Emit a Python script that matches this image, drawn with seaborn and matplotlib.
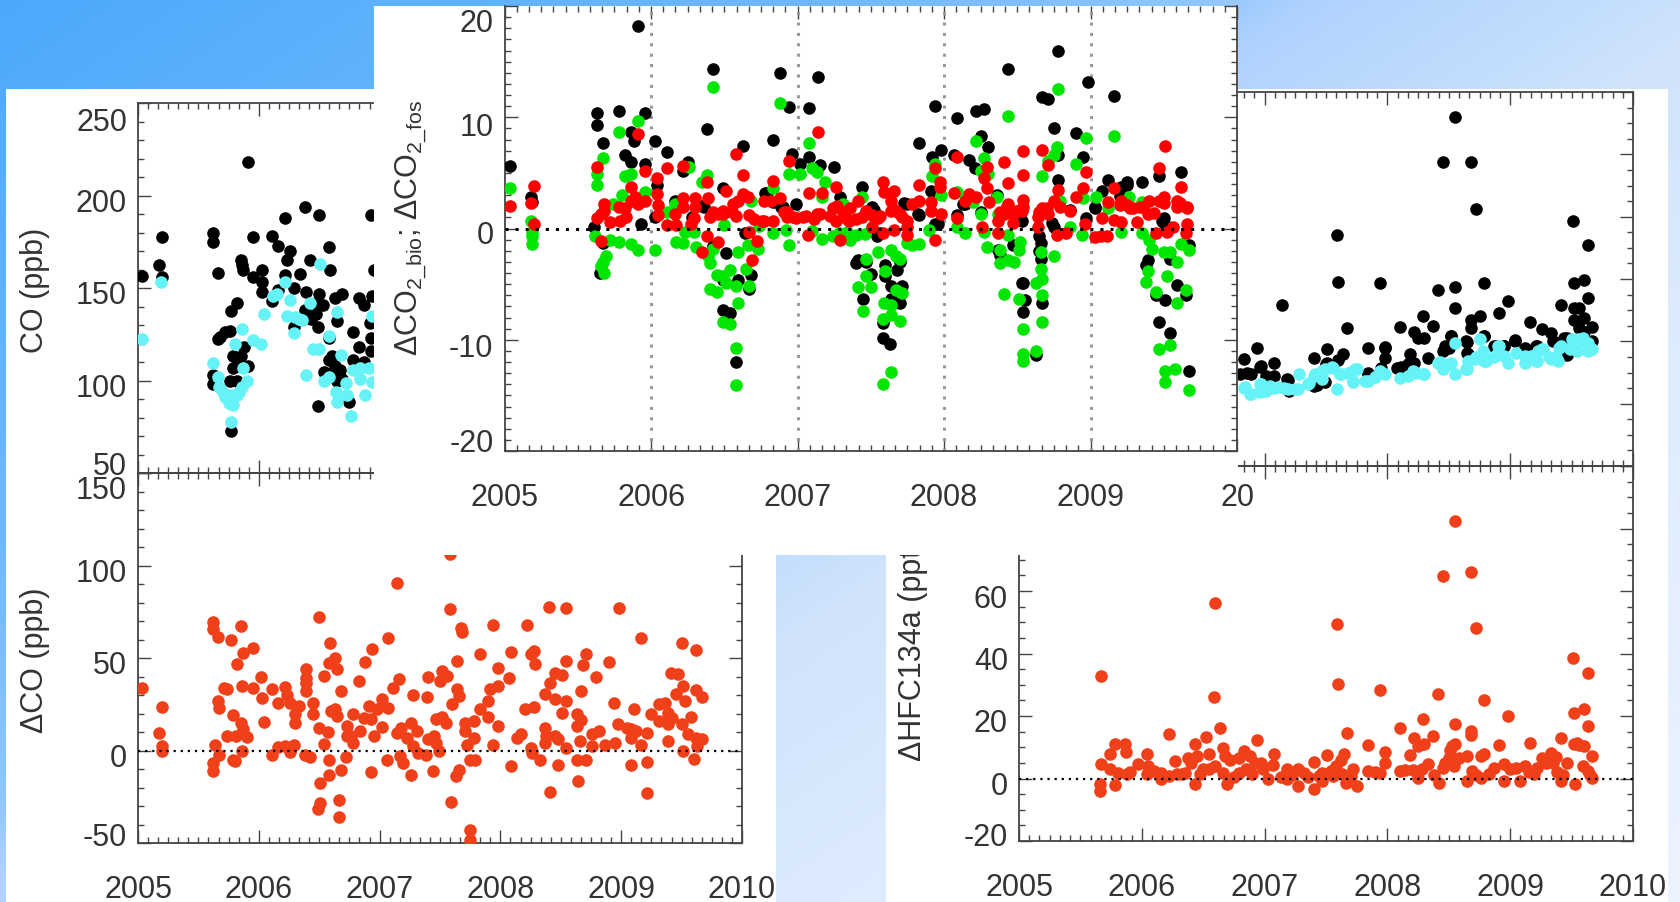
import numpy as np
import matplotlib
matplotlib.use("Agg")
import matplotlib.pyplot as plt
from matplotlib.patches import Rectangle
from matplotlib.ticker import MultipleLocator
from matplotlib.transforms import ScaledTranslation
import seaborn as sns

sns.set_theme(style="ticks")
plt.rcParams['font.family'] = ['Liberation Sans', 'DejaVu Sans']
plt.rcParams['mathtext.fontset'] = 'custom'
plt.rcParams['mathtext.rm'] = 'Liberation Sans'
plt.rcParams['mathtext.default'] = 'regular'

# (decimal year, value)
co_black = [(2005.03,156.7),(2005.17,162.5),(2005.20,177.3),(2005.20,156),(2005.62,179.6),(2005.62,174.7),(2005.66,158),(2005.62,103),(2005.62,98),(2005.66,122.7),(2005.68,123.6),(2005.72,126),(2005.76,127),(2005.77,137.5),(2005.82,142),(2005.79,113),(2005.77,72.7),(2005.79,106.5),(2005.85,165),(2005.86,162.5),(2005.87,160),(2005.91,218),(2005.88,118),(2005.85,113),(2005.91,107.8),(2005.95,177.3),(2005.95,156),(2006.03,160),(2006.03,153),(2006.03,148),(2006.11,178),(2006.16,172.7),(2006.22,188),(2006.26,170),(2006.23,165),(2006.22,157),(2006.34,157.4),(2006.29,150),(2006.16,149),(2006.11,143),(2006.38,194),(2006.50,189.5),(2006.42,165),(2006.58,172),(2006.59,160),(2006.39,148),(2006.50,146.6),(2006.53,141),(2006.63,144.4),(2006.69,146.6),(2006.38,138),(2006.47,136),(2006.49,129),(2006.29,129),(2006.65,132),(2006.58,123),(2006.78,126),(2006.83,144.8),(2006.87,141),(2006.93,189.5),(2006.95,160),(2006.94,145.6),(2006.92,131),(2006.93,123),(2006.83,118),(2006.93,116),(2006.61,113),(2006.58,111),(2006.67,105.6),(2006.54,104.7),(2006.69,101),(2006.78,111),(2006.49,86),(2006.75,88.4),(2006.87,110),(2006.63,108),(2006.60,104),(2006.65,100),(2005.82,108),(2005.82,100),(2005.76,100),(2006.43,133),(2006.47,142)]
co_cyan = [(2005.03,122.4),(2005.19,153),(2005.62,109.6),(2005.66,102),(2005.67,96.6),(2005.72,91),(2005.77,92),(2005.82,92),(2005.79,86.6),(2005.77,77.6),(2005.86,96.6),(2005.90,100),(2005.87,107),(2005.80,119.5),(2005.86,128),(2005.95,122),(2006.02,119.5),(2006.04,136),(2006.12,145.7),(2006.15,146.6),(2006.22,153.4),(2006.26,143.5),(2006.23,135),(2006.29,125.5),(2006.30,134.5),(2006.36,132.7),(2006.39,103),(2006.42,142),(2006.51,163),(2006.45,117),(2006.50,117),(2006.58,124),(2006.65,137),(2006.68,114),(2006.54,100),(2006.58,102),(2006.64,94),(2006.65,88.4),(2006.72,98.4),(2006.73,92),(2006.76,81),(2006.78,105.6),(2006.84,106.5),(2006.91,106.5),(2006.84,101),(2006.88,92),(2006.94,135),(2006.94,99),(2005.70,94),(2005.75,88),(2005.84,94),(2006.33,133.5)]

dco_ppb = [(2005.03,33.6),(2005.17,9.2),(2005.20,23.6),(2005.20,2.3),(2005.20,-.4),(2005.62,69.5),(2005.62,65.5),(2005.66,61.6),(2005.62,-6.7),(2005.62,-11.2),(2005.64,3.2),(2005.67,-2.2),(2005.77,59.6),(2005.82,46.9),(2005.87,52.9),(2005.95,55.2),(2005.85,67.3),(2005.71,33.9),(2005.74,33),(2005.66,26.7),(2005.67,23.1),(2005.79,19),(2005.85,15),(2005.87,11.4),(2005.74,7.8),(2005.81,7.8),(2005.90,7.4),(2005.86,-.4),(2005.79,-4.9),(2005.80,-5.8),(2005.86,34.8),(2005.95,33.9),
 (2006.02,39.9),(2006.03,28.2),(2006.04,15.5),(2006.11,33),(2006.16,25.8),(2006.22,34.5),(2006.23,29.8),(2006.26,25.8),(2006.30,19.5),(2006.30,14.6),(2006.33,24),(2006.45,25.5),(2006.39,44.2),(2006.39,39.4),(2006.39,36.3),(2006.39,32.1),(2006.45,19.5),(2006.50,12.3),(2006.54,40.3),(2006.54,3.6),(2006.57,10.1),(2006.11,-2.7),(2006.16,1.8),(2006.22,2.3),(2006.29,2.9),(2006.26,-.9),(2006.38,-2.2),(2006.42,-3.4),(2006.50,72.4),(2006.59,57.9),(2006.58,47.5),(2006.63,50.2),(2006.65,43.9),(2006.68,32.1),(2006.60,21.3),(2006.63,22.2),(2006.65,18.6),(2006.58,-5.2),(2006.58,-13.5),(2006.51,-17.5),(2006.51,-28.3),(2006.49,-31.6),(2006.66,-26.9),(2006.66,-35.9),(2006.68,-10.3),(2006.72,-3.6),(2006.73,13.2),(2006.73,8.1),(2006.76,7.8),(2006.78,20),(2006.78,4.2),(2006.83,37.5),(2006.84,10.5),(2006.87,17.7),(2006.88,47.8),(2006.91,24),(2006.94,55.1),(2006.93,16.8),(2006.93,-11.6),(2006.95,8.1),(2006.98,22.2),
 (2007.02,28),(2007.02,12.8),(2007.07,60.6),(2007.07,23.1),(2007.11,33.6),(2007.16,38.8),(2007.14,90.4),(2007.14,9.6),(2007.18,12.3),(2007.06,-4.9),(2007.17,-3.1),(2007.19,-7),(2007.26,15),(2007.26,-13),(2007.28,29.8),(2007.23,6.9),(2007.31,10.5),(2007.28,2.3),(2007.32,-1.3),(2007.38,-2.2),(2007.39,29.1),(2007.40,39.9),(2007.40,6),(2007.45,7.8),(2007.44,-11.2),(2007.47,4.2),(2007.49,-.4),(2007.50,37.5),(2007.52,43),(2007.47,16.8),(2007.52,18.2),(2007.55,15),(2007.56,40.3),(2007.58,76.4),(2007.58,106),(2007.59,-28),(2007.60,24.9),(2007.64,48.4),(2007.64,33),(2007.66,29.4),(2007.67,66.4),(2007.68,64.1),(2007.63,-13.9),(2007.66,-10.3),(2007.71,15),(2007.71,10.5),(2007.72,3.2),(2007.75,-4.9),(2007.79,-5.4),(2007.78,15.9),(2007.78,6.9),(2007.83,52.3),(2007.83,22.2),(2007.75,-43.1),(2007.75,-48.2),(2007.90,26.7),(2007.90,18.2),(2007.91,33.4),(2007.94,68),(2007.94,3.2),(2007.98,34.8),(2007.98,44.8),(2007.98,13.2),
 (2008.07,39.4),(2008.09,53.2),(2008.09,-8.5),(2008.14,6.9),(2008.17,9),(2008.20,22.6),(2008.22,67.7),(2008.25,1.4),(2008.26,-1.3),(2008.25,52),(2008.28,53.8),(2008.28,23.6),(2008.29,46.9),(2008.33,-4.9),(2008.37,30.3),(2008.37,12.3),(2008.37,4.2),(2008.38,7.8),(2008.41,36.3),(2008.41,-22.4),(2008.40,77.3),(2008.45,42.1),(2008.45,28),(2008.45,7.8),(2008.48,6),(2008.48,-7.6),(2008.51,40.6),(2008.51,20.4),(2008.54,76.9),(2008.54,48.4),(2008.54,26.7),(2008.54,1.4),(2008.63,19.9),(2008.63,13.2),(2008.63,-5.4),(2008.64,-16.6),(2008.67,32.1),(2008.67,16.4),(2008.68,46.2),(2008.66,5.1),(2008.71,52.3),(2008.71,-4.9),(2008.76,8.7),(2008.76,2.3),(2008.79,39.7),(2008.82,10.5),(2008.87,3.2),(2008.90,48),(2008.94,25.8),(2008.95,4.2),(2008.97,14.1),(2008.98,76.9),
 (2009.05,12.3),(2009.08,11.4),(2009.08,6.9),(2009.08,-7.6),(2009.11,22.2),(2009.12,10.5),(2009.16,61),(2009.16,3.2),(2009.21,9.2),(2009.21,-6.1),(2009.21,-22.9),(2009.25,19.5),(2009.31,24.9),(2009.31,15.9),(2009.36,25.8),(2009.39,20.4),(2009.39,5.1),(2009.39,14.1),(2009.41,42.1),(2009.42,17.7),(2009.45,30.3),(2009.47,41.2),(2009.50,58.3),(2009.50,14.4),(2009.51,34.8),(2009.51,-.4),(2009.53,26.7),(2009.55,8.7),(2009.58,18.1),(2009.60,-4.5),(2009.62,54.2),(2009.62,32.7),(2009.62,6.9),(2009.67,29.1),(2009.67,6.3),(2009.63,2.3)]

dco2_black = [(2005.04,5.6),(2005.18,2.8),(2005.19,2.4),(2005.63,10.4),(2005.63,9.3),(2005.78,10.6),(2005.86,8.7),(2005.88,7.9),(2005.96,10.4),(2005.67,7.7),(2005.82,6.6),(2005.86,6.0),(2005.96,5.8),(2005.91,18.2),(2006.03,7.9),(2006.11,6.9),(2006.04,3.9),(2006.03,1.0),(2005.65,-4.0),(2005.67,-1.3),(2006.25,6.0),(2006.22,5.2),(2006.16,2.5),(2006.38,8.9),(2006.42,14.3),(2006.63,7.4),(2006.49,3.6),(2006.51,-2.2),(2006.42,-1.6),(2006.49,-7.3),(2006.54,-7.6),(2006.58,-12.0),(2006.49,-4.6),(2006.59,-4.6),(2006.68,-4.2),(2006.67,-5.4),(2006.64,-0.4),(2006.28,1.0),(2006.36,1.9),(2005.93,0.4),(2005.61,0.1),(2006.78,3.2),(2006.83,8.0),(2006.88,14.0),(2006.94,10.9),(2007.08,10.8),(2007.14,13.6),(2006.96,6.7),(2007.02,5.8),(2007.08,6.4),(2007.15,5.7),(2007.25,5.5),(2006.89,1.9),(2006.99,2.2),
 (2007.44,3.7),(2007.51,1.9),(2007.29,2.8),(2007.41,-2.8),(2007.47,-3.0),(2007.50,-4.1),(2007.45,-6.3),(2007.60,-3.3),(2007.60,-4.3),(2007.64,-5.2),(2007.71,-5.2),(2007.68,-3.7),(2007.70,-3.0),(2007.70,-6.7),(2007.64,-6.3),(2007.58,-8.5),(2007.58,-9.8),(2007.63,-10.4),(2007.75,2.2),(2007.83,1.2),(2007.83,7.7),(2007.92,6.4),(2007.94,11.0),(2007.98,7.1),(2007.91,3.4),(2007.94,0.4),(2008.07,6.6),(2008.09,9.9),(2008.17,6.2),(2008.21,5.4),(2008.22,10.6),(2008.27,10.7),(2008.25,8.3),(2008.30,7.3),(2008.14,2.2),(2008.44,14.3),(2008.37,-1.9),(2008.38,-2.4),(2008.47,-1.5),(2008.53,-4.9),(2008.54,-4.9),(2008.55,-6.4),(2008.54,-7.5),(2008.63,-11.4),(2008.66,-1.3),(2008.66,-2.7),(2008.67,-6.7),(2008.67,11.8),(2008.71,11.6),(2008.78,16.0),(2008.75,9.0),(2008.78,6.6),(2008.78,4.4),(2008.90,8.6),(2008.95,6.4),(2008.98,13.2),(2009.16,11.9),(2009.03,1.9),(2009.08,3.4),(2009.12,4.4),(2009.21,3.7),(2009.25,4.2),(2009.35,4.2),(2009.47,4.7),(2009.62,5.1),(2009.39,-2.8),(2009.38,-3.3),(2009.45,-6.0),(2009.47,-8.4),(2009.51,-6.4),(2009.54,-9.4),(2009.49,0.7),(2009.54,-2.7),(2009.59,-5.1),(2009.65,-6.0),(2009.67,-12.8),(2009.67,-1.5),(2008.97,0.9),(2008.75,0.1),(2008.53,0.7),
 (2007.52,1.7),(2007.56,-.4),(2007.54,-.7),(2006.35,2),(2006.79,3.2),(2006.83,2.4),(2006.90,1.9),(2007.40,-3.1),(2007.73,2.3),(2007.82,1.3),(2007.96,.4),(2008.09,1.2),(2008.13,2.2),(2008.25,1.5),(2008.36,3),(2008.52,.9),(2008.65,-.7),(2008.65,-2),(2008.74,.5),(2008.86,1.7),(2009.03,1.8),(2009.20,2.9),(2009.25,3.9),(2009.50,.9),(2009.50,.5)]
dco2_green = [(2005.04,3.6),(2005.18,0.7),(2005.19,-0.3),(2005.19,-0.7),(2005.19,-1.4),(2005.63,4.9),(2005.63,3.9),(2005.67,6.3),(2005.78,8.7),(2005.91,9.7),(2005.82,4.7),(2005.86,4.9),(2005.96,3.3),(2005.80,3.0),(2005.74,2.2),(2005.62,-0.7),(2005.72,-1.0),(2005.78,-1.2),(2005.86,-1.4),(2005.91,-1.9),(2006.03,-1.9),(2005.69,-2.5),(2005.67,-3.0),(2005.66,-3.4),(2005.68,-4.0),(2006.11,1.5),(2006.16,2.2),(2006.17,-1.2),(2006.22,-1.3),(2006.23,-0.3),(2006.29,-0.3),(2006.26,5.5),(2006.31,-1.7),(2006.35,4.2),(2006.38,4.8),(2006.42,12.7),(2006.39,-2.5),(2006.40,-3.1),(2006.42,-1.8),(2006.40,-5.4),(2006.45,-4.2),(2006.49,-4.3),(2006.45,-5.7),(2006.54,-3.7),(2006.51,-4.9),(2006.49,-8.4),(2006.54,-8.6),(2006.58,-10.7),(2006.58,-14.1),(2006.59,-6.7),(2006.58,-5.2),(2006.65,-3.6),(2006.67,-5.2),(2006.59,-2.1),(2006.66,-1.5),(2006.73,-1.8),(2006.68,2.5),(2006.83,-0.4),(2006.83,3.6),(2006.94,-1.5),(2006.88,11.3),(2007.08,7.7),(2006.94,4.9),(2007.02,4.9),(2007.10,5.4),(2007.13,5.1),(2007.19,4.2),(2007.17,2.8),(2006.92,-0.1),(2007.17,-0.9),(2007.24,-0.7),
 (2007.44,2.8),(2007.36,-1.0),(2007.31,2.2),(2007.47,-2.7),(2007.47,-4.3),(2007.41,-5.3),(2007.50,-5.3),(2007.45,-7.4),(2007.55,-2.1),(2007.60,-3.8),(2007.64,-1.9),(2007.67,-2.5),(2007.70,-2.7),(2007.67,-5.5),(2007.71,-5.8),(2007.59,-6.7),(2007.64,-6.9),(2007.58,-8.1),(2007.64,-7.8),(2007.70,-8.3),(2007.64,-12.9),(2007.58,-14.0),(2007.75,-1.3),(2007.78,-1.5),(2007.83,-1.4),(2007.90,-0.1),(2007.92,4.7),(2007.94,5.8),(2007.98,3.0),(2008.09,3.3),(2008.09,0.1),(2008.14,-0.4),(2008.22,7.9),(2008.27,6.3),(2008.30,4.9),(2008.25,5.2),(2008.20,2.4),(2008.25,1.3),(2008.27,-0.3),(2008.29,-1.7),(2008.36,2.8),(2008.37,1.3),(2008.38,-1.9),(2008.38,-3.1),(2008.41,-5.9),(2008.44,10.1),(2008.44,-0.6),(2008.44,-2.8),(2008.48,-3.0),(2008.52,-1.2),(2008.51,-1.9),(2008.51,-6.3),(2008.54,-9.0),(2008.54,-11.3),(2008.54,-11.9),(2008.63,-11.0),(2008.63,-4.9),(2008.66,-3.6),(2008.67,-4.5),(2008.67,-6.0),(2008.67,-8.4),(2008.66,-2.1),(2008.75,-2.5),(2008.67,4.7),(2008.71,6.1),(2008.75,6.6),(2008.77,7.3),(2008.78,12.5),(2008.79,2.5),(2008.86,0.1),(2008.90,5.8),(2008.95,2.7),(2008.97,8.1),(2008.94,-0.6),(2009.16,8.3),(2009.04,2.8),(2009.12,1.8),(2009.21,-0.3),(2009.26,2.8),(2009.35,-0.4),(2009.35,2.4),(2009.40,-1.0),(2009.42,-1.8),(2009.39,-3.8),(2009.38,-4.8),(2009.45,-5.7),(2009.47,-10.8),(2009.54,-10.5),(2009.51,-12.8),(2009.58,-12.6),(2009.51,-13.8),(2009.67,-14.5),(2009.50,-2.1),(2009.54,-2.1),(2009.52,-4.3),(2009.59,-3.0),(2009.59,-6.7),(2009.65,-5.5),(2009.62,-1.4),(2009.67,-1.9),
 (2007.34,-.35),(2007.40,-.6),(2007.10,-.2),(2007.28,-.4),(2007.46,-.5),(2006.74,.2),(2006.50,.3)]
dco2_red = [(2005.04,2.0),(2005.18,2.3),(2005.20,3.8),(2005.20,0.4),(2005.63,5.5),(2005.63,0.9),(2005.66,-1.1),(2005.66,1.3),(2005.68,2.2),(2005.68,1.6),(2005.72,.6),(2005.78,1.9),(2005.79,.7),(2005.82,1.8),(2005.83,1.0),(2005.86,2.5),(2005.86,3.7),(2005.89,2.8),(2005.91,8.5),(2005.91,2.2),(2005.96,5.2),(2005.96,2.5),(2006.04,4.5),(2006.04,3.1),(2006.05,2.1),(2006.05,1.2),(2006.11,5.4),(2006.11,.3),(2006.16,1.3),(2006.17,.3),(2006.22,5.6),(2006.22,2.7),(2006.22,1.9),(2006.27,.4),(2006.30,2.7),(2006.30,1.9),(2006.29,.9),(2006.35,-2.1),(2006.38,4.2),(2006.39,2.7),(2006.38,-.7),(2006.40,1.0),(2006.46,-1.2),(2006.46,1.3),(2006.51,3.4),(2006.49,1.3),(2006.55,1.5),(2006.59,2.5),(2006.58,6.7),(2006.63,4.8),(2006.63,3.1),(2006.66,2.8),(2006.67,1.2),(2006.67,-.3),(2006.72,-1.1),(2006.69,-2.8),(2006.77,2.5),(2006.77,.7),(2006.82,2.5),(2006.83,4.3),(2006.88,2.7),(2006.91,1.5),(2006.94,6.1),(2006.93,1.0),(2006.99,.9),(2007.04,1.0),(2007.07,-.6),(2007.08,3.2),(2007.14,8.7),(2007.17,3.2),(2007.13,1.3),(2007.24,1.8),(2007.26,3.7),(2007.26,.7),
 (2007.29,-1.0),(2007.36,1.8),(2007.41,2.5),(2007.35,.7),(2007.44,1.0),(2007.47,1.6),(2007.51,1.2),(2007.55,.9),(2007.51,.1),(2007.58,4.2),(2007.59,3.3),(2007.64,2.5),(2007.66,3.4),(2007.64,1.6),(2007.67,1.6),(2007.58,-.4),(2007.66,-.1),(2007.71,1.0),(2007.75,.1),(2007.75,-.6),(2007.78,2.2),(2007.83,3.9),(2007.83,2.5),(2007.91,2.4),(2007.91,1.6),(2007.98,1.3),(2007.94,5.4),(2007.97,4.2),(2007.97,3.7),(2007.94,-1.0),(2008.07,3.2),(2008.09,6.4),(2008.09,.9),(2008.14,2.5),(2008.17,3.1),(2008.22,2.8),(2008.27,4.5),(2008.29,5.5),(2008.29,3.6),(2008.31,2.4),(2008.26,.1),(2008.41,6.0),(2008.37,.7),(2008.37,-.4),(2008.41,1.3),(2008.44,4.1),(2008.44,2.2),(2008.47,1.3),(2008.50,1.6),(2008.54,7.0),(2008.54,4.8),(2008.54,2.6),(2008.53,1.6),(2008.64,1.0),(2008.64,.1),(2008.67,7.1),(2008.67,1.8),(2008.71,5.7),(2008.71,1.3),(2008.75,2.5),(2008.78,3.5),(2008.79,1.9),(2008.77,-.6),(2008.83,-.4),(2008.86,1.6),(2008.90,2.8),(2008.95,3.6),(2008.97,5.1),(2008.96,.4),(2009.03,-.8),(2009.11,-.7),(2009.08,.9),(2009.12,2.4),(2009.16,3.6),(2009.16,.8),(2009.21,2.5),(2009.21,.6),(2009.25,2.1),(2009.29,1.8),(2009.32,.6),(2009.36,1.9),(2009.39,1.3),(2009.40,2.5),(2009.45,-.4),(2009.47,5.4),(2009.47,2.5),(2009.50,2.8),(2009.51,7.4),(2009.52,-.3),(2009.56,.1),(2009.59,2.5),(2009.62,3.7),(2009.62,2.1),(2009.66,1.8),(2009.66,.4),(2009.65,-.4),
 (2006.42,1.46),(2006.49,1.6),(2006.56,2.2),(2006.58,1.15),(2006.70,.85),(2006.76,.7),(2006.83,.7),(2006.93,1.46),(2006.97,1.0),(2007.06,1.15),(2007.15,1.3),(2007.22,1.15),(2007.31,1.46),(2007.34,.85),(2007.47,1.46),(2007.52,1.0),(2007.56,1.15),(2007.65,1.75),(2007.70,1.3),(2007.75,.7),(2007.40,.85),(2007.11,.85),(2007.27,2.0),(2008.38,1.46),(2008.43,2.0),(2008.50,1.6),(2008.54,1.9),(2008.47,.45),(2008.65,1.46),(2008.70,1.8),(2009.20,2.1),(2009.27,1.8),(2009.34,1.9),(2009.43,1.4),(2009.50,2.3),(2009.59,1.9),(2009.66,1.9),(2009.61,2.3),(2009.07,-.65)]

hfc_black = [(2006.83,34.2),(2006.94,38),(2006.97,32),(2006.86,30),(2007.08,33),(2007.08,29),(2007.14,51.7),(2007.18,27.8),(2007.20,24),(2007.40,34.5),(2007.51,37.6),(2007.59,74),(2007.60,59),(2007.67,44.4),(2007.64,36),(2007.60,34),(2007.51,33),(2007.40,25.7),(2007.84,37.8),(2007.84,29.4),(2007.94,58.7),(2007.98,38.3),(2007.98,34.8),(2007.95,31.6),(2008.10,44.5),(2008.18,36),(2008.08,31.6),(2008.17,32.6),(2008.22,43),(2008.25,41.2),(2008.30,41),(2008.29,48),(2008.37,45),(2008.33,34.8),(2008.41,56.4),(2008.45,97.5),(2008.55,111.9),(2008.55,57.5),(2008.55,50.6),(2008.52,41.7),(2008.47,38.5),(2008.68,97.4),(2008.72,82.6),(2008.79,58.8),(2008.68,47),(2008.75,48),(2008.68,44.4),(2008.65,39.9),(2008.79,41.7),(2008.65,36.4),(2008.91,49.2),(2008.98,52.8),(2008.89,38.5),(2009.04,40.3),(2008.95,38.5),(2009.16,46.2),(2009.26,43.9),(2009.33,42.8),(2009.22,38.5),(2009.41,51.7),(2009.51,78.7),(2009.63,70.8),(2009.52,58.7),(2009.60,59.7),(2009.63,54),(2009.52,50.8),(2009.56,50.8),(2009.52,47),(2009.60,47.6),(2009.56,44.4),(2009.67,44.6),(2009.44,41.2),(2009.65,39.6),
 (2006.96,31.7),(2006.89,29.5),(2006.80,29.5),(2007.01,29),(2007.19,27.5),(2007.50,32.7),(2007.43,26),(2007.49,26.8),(2007.84,30),(2007.98,38),(2008.11,31.7),(2008.22,33),(2008.45,37),(2008.50,38),(2008.52,41.8),(2008.64,40),(2008.66,36),(2008.79,41.7),(2008.87,38.5),(2008.95,38.5),(2009.04,40),(2009.12,38),(2009.21,38.5),(2009.35,40),(2009.46,41.2),(2009.46,35.5),(2009.67,40),(2009.60,42.9)]
hfc_cyan = [(2006.83,25.1),(2006.88,23),(2006.97,26.2),(2007.01,24),(2007.08,25.1),(2007.16,25.1),(2007.25,24.8),(2007.28,29.4),(2007.36,26.7),(2007.40,28.9),(2007.47,30.5),(2007.56,31.6),(2007.59,24.8),(2007.62,29.4),(2007.69,30),(2007.75,31),(2007.72,27),(2007.84,27.3),(2007.93,30),(2007.98,29.4),(2008.10,28.3),(2008.17,28.9),(2008.23,30),(2008.30,29.4),(2008.41,33.2),(2008.45,31),(2008.52,33.2),(2008.55,39.6),(2008.55,29.4),(2008.65,31),(2008.71,34.2),(2008.75,40.9),(2008.78,36.4),(2008.80,33.7),(2008.91,38.5),(2008.89,35.8),(2008.98,33.2),(2009.05,36.4),(2009.12,33.2),(2009.17,35.3),(2009.22,33.7),(2009.26,37.4),(2009.33,34.2),(2009.39,33.7),(2009.41,38.5),(2009.50,40.6),(2009.59,41.2),(2009.54,36.9),(2009.67,37.4),(2009.63,39.6),
 (2006.84,25.2),(2006.89,23.1),(2006.96,26.3),(2006.96,23.6),(2007.04,25.8),(2007.11,25.2),(2007.19,24.7),(2007.27,24.7),(2007.35,26.3),(2007.41,29.5),(2007.47,27.9),(2007.49,31.1),(2007.55,31.7),(2007.61,29.5),(2007.68,30),(2007.72,27.4),(2007.74,31.1),(2007.82,27.4),(2007.90,28.5),(2007.94,30.6),(2008.21,30.6),(2008.29,29.5),(2008.43,33.3),(2008.49,32.7),(2008.64,31.1),(2008.66,33.8),(2008.72,34.9),(2008.78,37),(2008.79,33.8),(2008.87,34.9),(2008.90,38.6),(2008.95,35.4),(2009.12,35.4),(2009.21,33.8),(2009.23,37),(2009.27,37.6),(2009.32,34.9),(2009.40,38),(2009.37,35),(2009.51,39.7),(2009.55,40.7),(2009.60,40.1),(2009.63,37),(2009.49,37.6)]
dhfc_ppt = [(2005.67,32.8),(2005.67,4.5),(2005.66,-1.9),(2005.66,-4),(2005.74,8),(2005.78,10.9),(2005.74,2.9),(2005.81,1.8),(2005.78,-2.1),(2005.86,10.9),(2005.87,8.4),(2005.88,1.3),(2005.97,4.7),(2006.04,8),(2006.05,4),(2006.04,1.3),(2006.16,1.8),(2006.16,-.3),(2006.22,14.1),(2006.27,5.5),(2006.29,1.3),(2006.35,1.8),(2006.40,5),(2006.43,11.2),(2006.45,7.2),(2006.43,-1.6),(2006.47,1.3),(2006.52,13.3),(2006.55,2.9),(2006.55,8),(2006.59,26.1),(2006.60,56.1),(2006.64,16.3),(2006.66,9.8),(2006.68,7.2),(2006.69,-1.6),(2006.66,1.8),(2006.79,6.6),(2006.79,1.8),(2006.83,8.8),(2006.88,7.2),(2006.85,2.9),(2006.90,1.3),(2006.94,12.2),(2006.97,5),(2006.99,2.9),(2007.03,-.3),(2007.08,8),(2007.07,4.3),(2007.18,2.9),(2007.18,-.3),(2007.27,2.9),(2007.27,-2.5),(2007.32,1.8),(2007.40,5.3),(2007.40,-3.2),(2007.47,1.8),(2007.47,-.9),(2007.51,7.5),(2007.56,.7),(2007.59,49.4),(2007.60,30.4),(2007.58,4),(2007.65,7.7),(2007.67,14.5),(2007.66,-1.4),(2007.72,2.9),(2007.75,-2.5),(2007.84,10.6),(2007.84,2.4),(2007.94,28.4),(2007.94,1.8),(2007.98,8.6),(2007.98,5),(2008.10,16.3),(2008.10,2.4),(2008.18,7.5),(2008.21,2.6),(2008.22,13),(2008.25,10.4),(2008.30,10.9),(2008.25,.2),(2008.29,18.9),(2008.33,4.7),(2008.37,13.6),(2008.41,27.1),(2008.42,-1.4),(2008.45,64.7),(2008.45,3.4),(2008.55,82.5),(2008.50,6.6),(2008.55,17.6),(2008.53,10.4),(2008.55,10.9),(2008.54,4),(2008.68,66.2),(2008.72,48.3),(2008.68,15.2),(2008.68,13.8),(2008.65,7.2),(2008.65,-.9),(2008.69,2.4),(2008.79,25.2),(2008.76,7.2),(2008.79,8),(2008.76,.2),(2008.87,3.4),(2008.91,10.6),(2008.95,4.5),(2008.95,-.9),(2008.98,19.9),(2009.05,3.4),(2009.08,-.9),(2009.12,4),(2009.16,11.4),(2009.22,3.4),(2009.26,6.6),(2009.33,8.2),(2009.35,5),(2009.41,13),(2009.41,-.9),(2009.46,5),(2009.51,38.6),(2009.52,21),(2009.52,10.9),(2009.53,-1.6),(2009.54,11.4),(2009.59,4),(2009.60,22.2),(2009.60,10.4),(2009.63,33.8),(2009.63,16.8),(2009.63,2.4),(2009.67,7.2),(2009.67,.2),
 (2005.90,2),(2006.10,2.5),(2006.22,.8),(2006.33,1.5),(2006.38,6.5),(2006.50,3),(2006.60,4),(2006.72,6),(2006.75,.5),(2006.92,5),(2007.13,.6),(2007.22,1),(2007.35,.5),(2007.44,.8),(2007.54,2.5),(2007.62,6),(2007.63,1.5),(2007.70,.8),(2007.90,2.2),(2008.14,2.6),(2008.28,3),(2008.38,1),(2008.47,5),(2008.51,9),(2008.58,6.5),(2008.72,1.2),(2008.83,1.5),(2009.00,3),(2009.15,2),(2009.19,1.5),(2009.29,5),(2009.37,7),(2009.38,2),(2009.43,1.2),(2009.56,10.6),(2009.65,1)]

years = [2005, 2006, 2007, 2008, 2009, 2010]

W, H = 1680, 903
DOT = 82
TXT = '#333333'
CYAN = '#66f3f8'
GREEN = '#00e600'
RED = '#ff0000'
ORANGE = '#f0401a'
FS = 22


def gradient(x0, x1, y0, y1):
    xx, yy = np.meshgrid(np.arange(x0, x1, 2), np.arange(y0, y1, 2))
    t = xx + 1.5 * yy
    stops = [0, 820, 1200, 1315, 1610, 1743, 2240, 3024]
    rgb = [(75, 169, 252), (112, 184, 253), (143, 198, 254), (175, 210, 253),
           (195, 222, 254), (208, 227, 251), (222, 236, 254), (235, 243, 254)]
    rgb = np.array(rgb) / 255
    return np.dstack([np.interp(t, stops, rgb[:, i]) for i in range(3)])


def panel(left, right, top, bottom, ylim, major, minor, z=1):
    ax = fig.add_axes([left / W, 1 - bottom / H, (right - left) / W, (bottom - top) / H], zorder=z)
    ax.patch.set_alpha(0)
    ax.set_xlim(2005, 2010)
    ax.set_ylim(*ylim)
    ax.xaxis.set_major_locator(MultipleLocator(1))
    ax.xaxis.set_minor_locator(MultipleLocator(1 / 12))
    ax.yaxis.set_major_locator(MultipleLocator(major))
    ax.yaxis.set_minor_locator(MultipleLocator(minor))
    ax.tick_params(which='major', direction='in', length=9.5, width=1, color='#444444',
                   top=True, right=True, labelcolor=TXT, labelsize=FS, pad=8)
    ax.tick_params(which='minor', direction='in', length=4, width=1, color='#444444',
                   top=True, right=True)
    ax.tick_params(axis='x', which='major', pad=22)
    for s in ax.spines.values():
        s.set_color('#444444')
        s.set_linewidth(1.3)
    ax.set_xticks(years)
    ax.set_xticklabels([str(y) for y in years])
    return ax


def shift_labels(ax, offsets):
    # the tick labels sit a little below their ticks, first and last ones pulled inside
    fig.canvas.draw()
    for lab in ax.get_yticklabels():
        dy = offsets.get(lab.get_text().replace('\u2212', '-'), 4)
        lab.set_transform(lab.get_transform() + ScaledTranslation(0, -dy / 100, fig.dpi_scale_trans))


def dots(ax, series, color, z=3):
    a = np.array(series)
    sns.scatterplot(x=a[:, 0], y=a[:, 1], color=color, s=DOT, linewidth=0, ax=ax, legend=False, zorder=z)


def zero_line(ax, z, lw=1.6, gap=2.2):
    ax.axhline(0, color='black', lw=lw, ls=(0, (1, gap)), zorder=z)


fig = plt.figure(figsize=(W / 100, H / 100), dpi=100)

back = fig.add_axes([0, 0, 1, 1], zorder=0)
back.axis('off')
back.imshow(gradient(0, W + 2, 0, H + 2), extent=(0, W, H, 0), aspect='auto', interpolation='bilinear')
back.add_patch(Rectangle((6, 90), 1662, 813, color='white', lw=0, zorder=2))
back.set_xlim(0, W)
back.set_ylim(H, 0)

# left column
co = panel(138, 742, 104, 474, (50, 250), 50, 10)
dots(co, co_black, 'black')
dots(co, co_cyan, CYAN, 4)
co.set_xticklabels([])
co.set_yticks([50, 100, 150, 200, 250])
co.set_yticklabels(['50', '100', '150', '200', '250'])
shift_labels(co, {'250': 15, '50': -10})
co.set_ylabel('CO (ppb)', fontsize=FS, color=TXT)
co.yaxis.set_label_coords((50 - 138) / 604, (474 - 290) / 370)

dco = panel(138, 742, 474, 844, (-50, 150), 50, 10)
dots(dco, dco_ppb, ORANGE)
zero_line(dco, 5)
dco.set_yticks([-50, 0, 50, 100, 150])
dco.set_yticklabels(['-50', '0', '50', '100', '150'])
shift_labels(dco, {'150': 14, '-50': -9})
dco.set_ylabel('\u0394CO (ppb)', fontsize=FS, color=TXT)
dco.yaxis.set_label_coords((50 - 138) / 604, (844 - 660) / 370)

# right column, its left part is behind the middle panel
hfc = panel(1019, 1633, 93, 467, (0, 120), 20, 5)
dots(hfc, hfc_black, 'black')
dots(hfc, hfc_cyan, CYAN, 4)
hfc.set_xticklabels([])
hfc.set_yticklabels([])

dhfc = panel(1019, 1633, 467, 842, (-20, 100), 20, 5)
dots(dhfc, dhfc_ppt, ORANGE)
zero_line(dhfc, 5)
dhfc.set_yticks([-20, 0, 20, 40, 60, 80, 100])
dhfc.set_yticklabels(['-20', '0', '20', '40', '60', '', ''])
shift_labels(dhfc, {'-20': -8})
dhfc.set_ylabel('\u0394HFC134a (ppt)', fontsize=FS, color=TXT)
dhfc.yaxis.set_label_coords((928 - 1019) / 614, (842 - 650) / 375)

# pasted pieces on top: gradient gap and the white middle panel
cover = fig.add_axes([0, 0, 1, 1], zorder=2)
cover.axis('off')
cover.imshow(gradient(776, 888, 556, 905), extent=(776, 886, 903, 556), aspect='auto', interpolation='bilinear')
cover.add_patch(Rectangle((374, 7), 864, 549, color='white', lw=0, zorder=2))
cover.set_xlim(0, W)
cover.set_ylim(H, 0)

mid = panel(504.6, 1237, 7, 452, (-20, 20), 10, 1, z=3)
mid.spines['top'].set_visible(False)
for y in years[1:-1]:
    mid.axvline(y, color='#999999', lw=2.2, ls=(0, (1, 2.4)), zorder=1)
dots(mid, dco2_black, 'black', 3)
dots(mid, dco2_green, GREEN, 4)
dots(mid, dco2_red, RED, 5)
zero_line(mid, 6, lw=2.2, gap=2.3)
mid.set_xticklabels(['2005', '2006', '2007', '2008', '2009', '20'])
mid.set_yticks([-20, -10, 0, 10, 20])
mid.set_yticklabels(['-20', '-10', '0', '10', '20'])
shift_labels(mid, {'20': 13, '-20': -11, '10': 6, '-10': 5, '0': 3})
mid.set_ylabel('\u0394CO$_{2\\_bio}$; \u0394CO$_{2\\_fos}$', fontsize=FS, color=TXT)
mid.yaxis.set_label_coords((429 - 504.6) / 732.4, (452 - 228) / 445)

fig.savefig('out.png', dpi=100)
